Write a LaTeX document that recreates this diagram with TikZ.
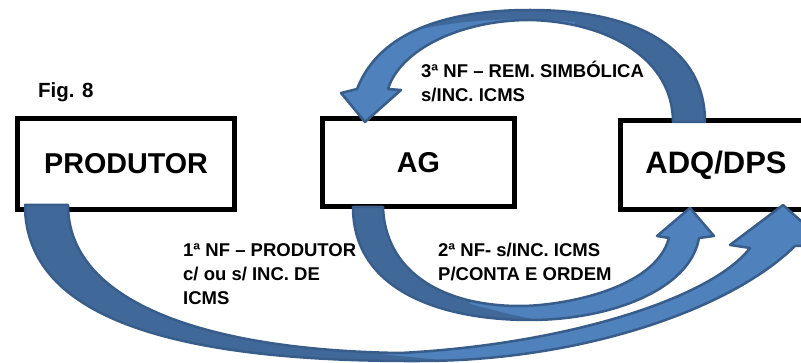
\documentclass[tikz,border=0pt]{standalone}
\usepackage{fontspec}
\setmainfont{Liberation Sans}
\definecolor{lightblue}{HTML}{4F81BD}
\definecolor{darkblue}{HTML}{40699A}
\definecolor{edgeblue}{HTML}{385D8A}
\begin{document}
\begin{tikzpicture}[x=1pt,y=-1pt,
  box/.style={draw=black,line width=5pt,inner sep=0pt},
  band/.style={draw=edgeblue,line width=2.5pt,line join=round},
  lbl/.style={font=\bfseries\fontsize{18.5}{24}\selectfont,align=left,anchor=base west,inner sep=0pt},
]
\useasboundingbox (0,0) rectangle (801,363);
\clip (0,0) rectangle (801,363);

% boxes
\node[box,minimum width=217pt,minimum height=91pt,font=\bfseries\fontsize{28.7}{30}\selectfont] (prod) at (126,164) {PRODUTOR};
\node[box,minimum width=192pt,minimum height=88pt,font=\bfseries\fontsize{28.7}{30}\selectfont] (ag) at (418.5,162.5) {AG};
\node[box,minimum width=191pt,minimum height=88.5pt,font=\bfseries\fontsize{31}{32}\selectfont] (adq) at (716,165.2) {ADQ/DPS};

% texts (anchor = baseline of the last line)
\node[font=\bfseries\fontsize{20.5}{22}\selectfont,anchor=base west,inner sep=0pt] (fig) at (38,98) {Fig. 8};
\node[lbl] (l3) at (421,101.5) {3ª NF – REM. SIMBÓLICA\\s/INC. ICMS};
\node[lbl] (l1) at (183,305) {1ª NF – PRODUTOR\\c/ ou s/ INC. DE\\ICMS};
\node[lbl] (l2) at (438,281) {2ª NF- s/INC. ICMS\\P/CONTA E ORDEM};

% big arrow PRODUTOR -> ADQ/DPS
\def\bigband{(25,205) .. controls (25,320) and (180,362) .. (420,361) .. controls (580,361) and (730,310) .. (795,246) -- (828,245) -- (783,205) -- (730,245) -- (750,248) .. controls (710,300) and (560,345) .. (400,353) .. controls (200,350) and (68,300) .. (68,205) -- cycle}
\fill[lightblue] \bigband;
\begin{scope}
\clip (0,190) -- (330,190) -- (330,349) .. controls (380,354) and (420,358) .. (470,363) -- (470,380) -- (0,380) -- cycle;
\fill[darkblue] \bigband;
\end{scope}
\draw[band] \bigband;

% middle arrow AG -> ADQ/DPS
\def\midband{(353,207) .. controls (353,290) and (440,320) .. (530,320) .. controls (610,320) and (690,290) .. (699,238) -- (714,236) -- (690,208) -- (657,236) -- (669,238) .. controls (655,290) and (560,306) .. (520,306) .. controls (440,306) and (385,270) .. (383,207) -- cycle}
\fill[lightblue] \midband;
\begin{scope}
\clip (340,190) -- (470,190) -- (470,304) .. controls (500,312) and (525,318) .. (552,323) -- (552,400) -- (340,400) -- cycle;
\fill[darkblue] \midband;
\end{scope}
\draw[band] \midband;

% top arrow ADQ/DPS -> AG
\def\topband{(705,122) .. controls (705,50) and (640,10) .. (530,10) .. controls (450,10) and (380,30) .. (357,89) -- (341,93) -- (365,122) -- (401,90) -- (388,89) .. controls (400,50) and (460,20) .. (530,20) .. controls (610,22) and (673,60) .. (673,122) -- cycle}
\fill[lightblue] \topband;
\begin{scope}
\clip (420,-5) -- (420,29) .. controls (470,19) and (520,17) .. (575,22) -- (575,130) -- (720,130) -- (720,-5) -- cycle;
\fill[darkblue] \topband;
\end{scope}
\draw[band] \topband;
\end{tikzpicture}
\end{document}
